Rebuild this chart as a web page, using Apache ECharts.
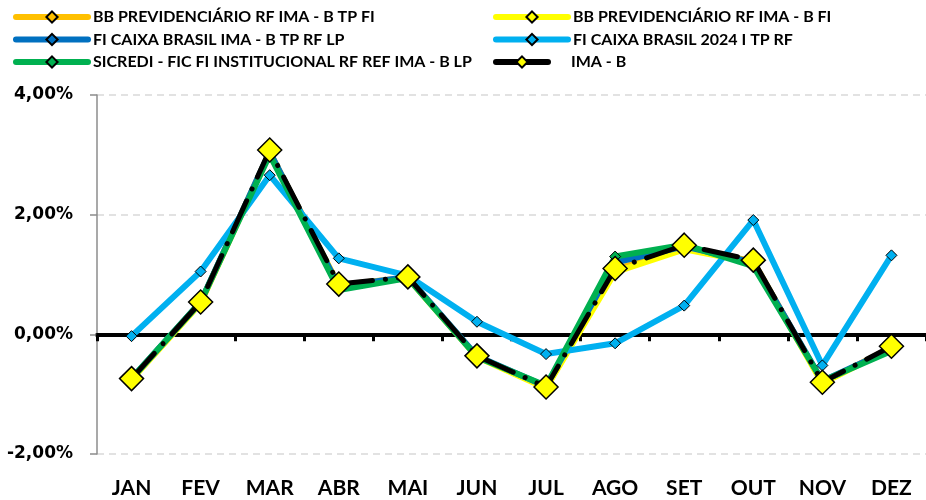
<!DOCTYPE html>
<html><head><meta charset="utf-8">
<script src="https://cdn.jsdelivr.net/npm/echarts@6/dist/echarts.min.js"></script>
<style>html,body{margin:0;padding:0;background:#fff}#c{width:926px;height:500px}</style>
</head><body><div id="c"></div>
<script>
const months = ['JAN','FEV','MAR','ABR','MAI','JUN','JUL','AGO','SET','OUT','NOV','DEZ'];
const yTicks = { min: -2, max: 4, interval: 2 };
const bbTpFi = [-0.75, 0.53, 3.05, 0.82, 0.95, -0.37, -0.89, 1.08, 1.46, 1.22, -0.81, -0.22];
const bbImabFi = [-0.76, 0.52, 3.03, 0.81, 0.94, -0.38, -0.90, 1.04, 1.42, 1.20, -0.82, -0.23];
const caixaImab = [-0.74, 0.54, 3.05, 0.80, 0.96, -0.36, -0.87, 1.20, 1.47, 1.20, -0.78, -0.25];
const caixa2024 = [-0.03, 1.05, 2.66, 1.27, 0.98, 0.21, -0.33, -0.15, 0.48, 1.91, -0.52, 1.32];
const sicredi = [-0.74, 0.54, 3.00, 0.74, 0.94, -0.38, -0.86, 1.30, 1.50, 1.14, -0.78, -0.28];
const imab = [-0.74, 0.54, 3.08, 0.84, 0.96, -0.36, -0.88, 1.10, 1.49, 1.24, -0.80, -0.20];

const names = ['BB PREVIDENCIÁRIO RF IMA - B TP FI','BB PREVIDENCIÁRIO RF IMA - B FI','FI CAIXA BRASIL IMA - B TP RF LP','FI CAIXA BRASIL 2024 I TP RF','SICREDI - FIC FI INSTITUCIONAL RF REF IMA - B LP','IMA - B'];
const FONT = 'Lato';
const chart = echarts.init(document.getElementById('c'));
function small(name, data, color) {
  return { name, type: 'line', data, xAxisIndex: 0, symbol: 'diamond', symbolSize: 11,
    lineStyle: { color, width: 6 }, itemStyle: { color, borderColor: '#000', borderWidth: 1 },
    color, animation: false };
}
const legendText = { fontFamily: FONT, fontWeight: 'bold', fontSize: 16, color: '#000' };
const legendCommon = { orient: 'vertical', itemWidth: 72, itemHeight: 14, itemGap: 6.5, padding: 0,
  selectedMode: false, lineStyle: { width: 6, cap: 'round' }, textStyle: legendText };
chart.setOption({
  animation: false,
  legend: [
    Object.assign({}, legendCommon, { left: 13, top: 9, data: [names[0], names[2], names[4]] }),
    Object.assign({}, legendCommon, { left: 493, top: 9, data: [names[1], names[3]] }),
    Object.assign({}, legendCommon, { left: 493, top: 54, itemWidth: 52,
      data: [{ name: names[5], lineStyle: { type: 'solid', width: 6, cap: 'round' } }],
      textStyle: Object.assign({}, legendText, { padding: [0, 0, 0, 18] }) })
  ],
  grid: { left: 97, right: -2, top: 95, bottom: 46, containLabel: false },
  xAxis: [
    { type: 'category', data: months, position: 'bottom',
      axisLine: { show: false, onZero: false }, axisTick: { show: false },
      axisLabel: { margin: 24, fontFamily: FONT, fontWeight: 'bold', fontSize: 21, color: '#000' } },
    { type: 'category', data: months, position: 'top',
      axisLine: { show: true, onZero: true, lineStyle: { color: '#000', width: 4 } },
      axisTick: { show: true, inside: true, length: 7, lineStyle: { color: '#000', width: 3 } },
      axisLabel: { show: false } }
  ],
  yAxis: { type: 'value', min: yTicks.min, max: yTicks.max, interval: yTicks.interval,
    axisLine: { show: true, lineStyle: { color: '#8c8c8c', width: 1.5 } },
    axisTick: { show: true, length: 7, lineStyle: { color: '#8c8c8c', width: 1.5 } },
    splitLine: { lineStyle: { color: '#d9d9d9', type: [7, 5], width: 1.5 } },
    axisLabel: { margin: 24, fontFamily: 'DejaVu Sans', fontWeight: 'bold', fontSize: 17, color: '#000',
      formatter: v => v.toFixed(2).replace('.', ',') + '%' } },
  series: [
    small(names[0], bbTpFi, '#ffc000'),
    small(names[1], bbImabFi, '#ffff00'),
    small(names[2], caixaImab, '#0070c0'),
    small(names[3], caixa2024, '#00b0f0'),
    small(names[4], sicredi, '#00b050'),
    { name: names[5], type: 'line', data: imab, xAxisIndex: 0, symbol: 'diamond', symbolSize: 24,
      lineStyle: { color: '#000', width: 5, type: [34, 13, 0.1, 13], cap: 'round' },
      itemStyle: { color: '#ffff00', borderColor: '#000', borderWidth: 1.5 }, color: '#000' }
  ]
});
</script></body></html>
